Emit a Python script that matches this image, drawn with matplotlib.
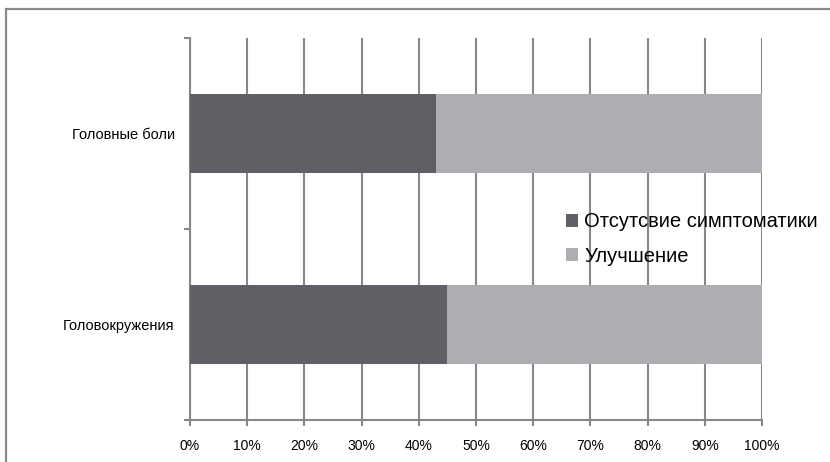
import matplotlib
matplotlib.use("Agg")
import matplotlib.pyplot as plt
from matplotlib.patches import Rectangle
import numpy as np

plt.rcParams['font.family'] = ['Liberation Sans', 'DejaVu Sans']

categories = ["Головокружения", "Головные боли"]
no_symptoms = [45, 43]
improved = [55, 57]
series_names = ["Отсутсвие симптоматики", "Улучшение"]
x_ticks = [0, 10, 20, 30, 40, 50, 60, 70, 80, 90, 100]
x_labels = ["0%", "10%", "20%", "30%", "40%", "50%", "60%", "70%", "80%", "90%", "100%"]

dark = "#5f6065"
light = "#adaeb1"
grid_c = "#86888c"

W, H = 830, 462
fig = plt.figure(figsize=(W / 100, H / 100), dpi=100)
ax = fig.add_axes([190 / W, 42 / H, 572 / W, 382 / H])

y = np.arange(len(categories))
ax.barh(y, no_symptoms, height=0.41, color=dark, label=series_names[0], zorder=3)
ax.barh(y, improved, left=no_symptoms, height=0.41, color=light, label=series_names[1], zorder=3)

ax.set_xlim(0, 100)
ax.set_ylim(-0.5, 1.5)
ax.set_xticks(x_ticks)
ax.set_xticklabels(x_labels, fontsize=10)
ax.xaxis.grid(True, color=grid_c, linewidth=1.5, zorder=1)
ax.set_axisbelow(True)

# category boundaries as major ticks, names as minor ticks
ax.set_yticks([-0.5, 0.5, 1.5])
ax.set_yticklabels([])
ax.set_yticks(y, minor=True)
ax.set_yticklabels(categories, minor=True, fontsize=10.5)
ax.tick_params(axis='y', which='minor', length=0, pad=11)
ax.tick_params(axis='y', which='major', length=4, width=1.5, color=grid_c)
ax.tick_params(axis='x', length=4, width=1.5, color=grid_c, pad=10)

for side in ['top', 'right']:
    ax.spines[side].set_visible(False)
for side in ['left', 'bottom']:
    ax.spines[side].set_color(grid_c)
    ax.spines[side].set_linewidth(1.5)

leg = fig.legend(loc='center left', bbox_to_anchor=(566 / W, 1 - 239 / H),
                 frameon=False, fontsize=14.5, handlelength=0.6, handleheight=0.6,
                 handletextpad=0.3, labelspacing=0.75, borderpad=0, borderaxespad=0)

fig.patches.append(Rectangle((6 / W, -0.1), 1.2, 1.1 - 9 / H, transform=fig.transFigure,
                             fill=False, edgecolor=grid_c, linewidth=1.6))

fig.savefig("out.png", dpi=100)
